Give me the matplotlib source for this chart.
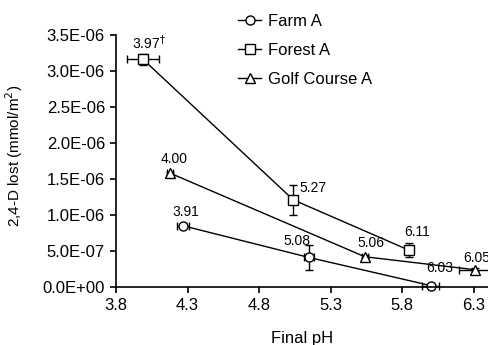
import matplotlib
matplotlib.use("Agg")
import matplotlib.pyplot as plt
from matplotlib.ticker import FuncFormatter, FixedLocator
from matplotlib.lines import Line2D

plt.rcParams['font.family'] = ['Liberation Sans', 'DejaVu Sans']

# Data
farm_ph = [4.27, 5.15, 6.00]
farm_loss = [0.85e-6, 0.41e-6, 0.02e-6]
farm_xerr = [0.04, 0.035, 0.06]
farm_yerr = [0.02e-6, 0.17e-6, 0.02e-6]
farm_labels = ["3.91", "5.08", "6.03"]

forest_ph = [3.99, 5.04, 5.85]
forest_loss = [3.16e-6, 1.21e-6, 0.51e-6]
forest_xerr = [0.11, 0.01, 0.01]
forest_yerr = [0.07e-6, 0.21e-6, 0.10e-6]
forest_labels = ["3.97$^{\\dagger}$", "5.27", "6.11"]

golf_ph = [4.18, 5.54, 6.31]
golf_loss = [1.58e-6, 0.42e-6, 0.24e-6]
golf_xerr = [0.02, 0.02, 0.11]
golf_yerr = [0.02e-6, 0.02e-6, 0.02e-6]
golf_labels = ["4.00", "5.06", "6.05"]

series_names = ['Farm A', 'Forest A', 'Golf Course A']
x_ticks = [3.8, 4.3, 4.8, 5.3, 5.8, 6.3]
y_ticks = [0, 0.5e-6, 1.0e-6, 1.5e-6, 2.0e-6, 2.5e-6, 3.0e-6, 3.5e-6]

fig = plt.figure(figsize=(4.89, 3.45), dpi=100)
ax = fig.add_axes([116/489, 58/345, 1 - 116/489, 252/345])

mstyle = dict(color='black', markerfacecolor='white', markeredgecolor='black',
              markersize=6.5, markeredgewidth=1.0, lw=1.0)
common = dict(ecolor='black', elinewidth=1.0, capsize=3, clip_on=False, **mstyle)
markers = ['o', 's', '^']
for xs, ys, xe, ye, m in [(farm_ph, farm_loss, farm_xerr, farm_yerr, 'o'),
                          (forest_ph, forest_loss, forest_xerr, forest_yerr, 's'),
                          (golf_ph, golf_loss, golf_xerr, golf_yerr, '^')]:
    ax.errorbar(xs, ys, xerr=xe, yerr=ye, marker=m, **common)

def annotate(xs, ys, labels, offsets):
    for x, y, t, off in zip(xs, ys, labels, offsets):
        ax.annotate(t, (x, y), xytext=off, textcoords='offset pixels',
                    ha='center', va='center', fontsize=10, annotation_clip=False)

annotate(farm_ph, farm_loss, farm_labels, [(3, 14), (-12, 16), (9, 18)])
annotate(forest_ph, forest_loss, forest_labels, [(6, 17), (20, 12), (8, 18)])
annotate(golf_ph, golf_loss, golf_labels, [(4, 14), (6, 14), (2, 12)])

ax.set_xlim(3.8, 6.408)
ax.set_ylim(0, 3.5e-6)
ax.xaxis.set_major_locator(FixedLocator(x_ticks))
ax.yaxis.set_major_locator(FixedLocator(y_ticks))
ax.xaxis.set_major_formatter(FuncFormatter(lambda v, p: f"{v:.1f}"))
ax.yaxis.set_major_formatter(FuncFormatter(lambda v, p: f"{v:.1E}"))
for s in ['top', 'right']:
    ax.spines[s].set_visible(False)
ax.spines['left'].set_linewidth(1.2)
ax.spines['bottom'].set_linewidth(1.2)
ax.tick_params(axis='both', direction='out', length=4, width=1.2, labelsize=12, pad=4)

ax.set_ylabel("2,4-D lost (mmol/m$^2$)", fontsize=11)
ax.yaxis.set_label_coords((25 - 116) / 373, 0.52)
ax.set_xlabel("Final pH", fontsize=12)
ax.xaxis.set_label_coords((302 - 116) / 373, -(339 - 287) / 252)
ax.xaxis.label.set_verticalalignment('center')

handles = [Line2D([], [], marker=m, **mstyle) for m in markers]
ax.legend(handles, series_names, loc='upper left', bbox_to_anchor=(238/489, 1 - 14/345),
          bbox_transform=fig.transFigure, frameon=False, fontsize=12, handlelength=1.4,
          handletextpad=0.4, labelspacing=0.85, borderaxespad=0, borderpad=0)

fig.savefig("out.png", dpi=100)
